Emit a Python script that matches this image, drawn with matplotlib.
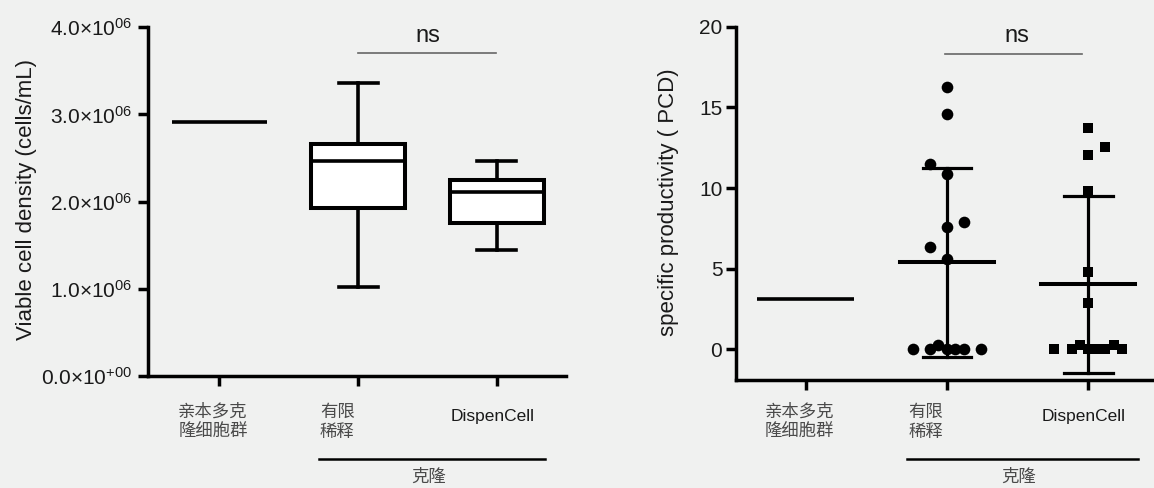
import numpy as np
import matplotlib
matplotlib.use("Agg")
import matplotlib.pyplot as plt
from matplotlib.transforms import blended_transform_factory

plt.rcParams['font.family'] = ['Liberation Sans', 'Noto Sans CJK SC', 'DejaVu Sans']
plt.rcParams['mathtext.fontset'] = 'custom'
plt.rcParams['mathtext.rm'] = 'Liberation Sans'
plt.rcParams['mathtext.it'] = 'Liberation Sans'
plt.rcParams['mathtext.default'] = 'regular'

# ---------------- data ----------------
categories = ['亲本多克\n隆细胞群', '有限\n稀释', 'DispenCell']
group_label = '克隆'

# Left panel: viable cell density (cells/mL)
vcd_parent = 2.91e6
vcd_whislo = [1.02e6, 1.44e6]
vcd_q1 = [1.92e6, 1.75e6]
vcd_med = [2.46e6, 2.105e6]
vcd_q3 = [2.665e6, 2.245e6]
vcd_whishi = [3.36e6, 2.465e6]
vcd_yticks = [0, 1e6, 2e6, 3e6, 4e6]
vcd_yticklabels = ['0.0×10$^{+00}$', '1.0×10$^{06}$', '2.0×10$^{06}$',
                   '3.0×10$^{06}$', '4.0×10$^{06}$']

# Right panel: specific productivity (PCD)
pcd_parent = 3.1
ld_values = [16.25, 14.6, 11.5, 10.85, 7.87, 7.6, 6.35, 5.6,
             0.0, 0.0, 0.27, 0.0, 0.0, 0.0, 0.0]
dc_values = [13.7, 12.57, 12.07, 9.82, 4.8, 2.9,
             0.0, 0.0, 0.3, 0.0, 0.0, 0.0, 0.3, 0.0]
pcd_yticks = [0, 5, 10, 15, 20]

# horizontal jitter of scatter points (style)
ld_jitter = [0, 0, -0.12, 0, 0.12, 0, -0.12, 0,
             -0.24, -0.12, -0.064, 0, 0.057, 0.12, 0.24]
dc_jitter = [0, 0.12, 0, 0, 0, 0,
             -0.24, -0.115, -0.06, 0, 0.06, 0.12, 0.18, 0.236]

# ---------------- figure ----------------
BG = '#f0f1f0'
W, H = 1154, 488
fig = plt.figure(figsize=(W / 100, H / 100), dpi=100, facecolor=BG)

def px_axes(l, r, t, b):
    return fig.add_axes([l / W, 1 - b / H, (r - l) / W, (b - t) / H])

ax1 = px_axes(148, 566, 27.3, 375.7)
ax2 = px_axes(735.5, 1154, 26.7, 380)

LW_SPINE = 2.5
TXT = '#1a1a1a'
CJK = '#4a4a4a'

for ax in (ax1, ax2):
    ax.set_facecolor(BG)
    for s in ('top', 'right'):
        ax.spines[s].set_visible(False)
    for s in ('left', 'bottom'):
        ax.spines[s].set_linewidth(LW_SPINE)
        ax.spines[s].set_color('black')
        ax.spines[s].set_capstyle('projecting')
    ax.tick_params(axis='both', direction='out', length=7.5, width=LW_SPINE,
                   colors='black', labelcolor=TXT)
    ax.set_xticks(range(len(categories)))
    ax.set_xticklabels([''] * len(categories))

# ----- left: box plot -----
ax1.set_xlim(-0.515, 2.498)
ax1.set_ylim(0, 4e6)
ax1.set_yticks(vcd_yticks)
ax1.set_yticklabels(vcd_yticklabels, fontsize=15)
ax1.tick_params(axis='y', pad=4)

LW_BOX = 2.9
LW = 2.6
ax1.plot([-0.34, 0.34], [vcd_parent, vcd_parent], color='black', lw=LW,
         solid_capstyle='butt')
stats = []
for i in range(2):
    stats.append(dict(med=vcd_med[i], q1=vcd_q1[i], q3=vcd_q3[i],
                      whislo=vcd_whislo[i], whishi=vcd_whishi[i], fliers=[]))
ax1.bxp(stats, positions=[1, 2], widths=0.68, capwidths=0.28,
        patch_artist=True, showfliers=False, manage_ticks=False,
        boxprops=dict(facecolor='white', edgecolor='black', linewidth=LW_BOX),
        medianprops=dict(color='black', linewidth=LW),
        whiskerprops=dict(color='black', linewidth=LW),
        capprops=dict(color='black', linewidth=LW))

# ns annotation
ax1.plot([1, 1.99], [3.705e6, 3.705e6], color='#666666', lw=1.2, clip_on=False)
ax1.text(1.5, 3.9e6, 'ns', ha='center', va='center', fontsize=17, color=TXT)

# ----- right: scatter with mean ± SD -----
ax2.set_xlim(-0.497, 2.465)
ax2.set_ylim(-1.9, 20)
ax2.set_yticks(pcd_yticks)
ax2.set_yticklabels([str(v) for v in pcd_yticks], fontsize=15)
ax2.tick_params(axis='y', pad=2)

ax2.plot([-0.344, 0.342], [pcd_parent, pcd_parent], color='black', lw=LW,
         solid_capstyle='butt')

groups = [(1, ld_values, ld_jitter, 'o', 8.4), (2, dc_values, dc_jitter, 's', 7.6)]
for pos, vals, jit, mk, ms in groups:
    vals = np.asarray(vals)
    mean = vals.mean()
    sd = vals.std(ddof=1)
    ax2.plot([pos, pos], [mean - sd, mean + sd], color='black', lw=2.3, zorder=2)
    ax2.plot([pos - 0.173, pos + 0.173], [mean + sd, mean + sd], color='black', lw=2.3, zorder=2)
    ax2.plot([pos - 0.173, pos + 0.173], [mean - sd, mean - sd], color='black', lw=2.3, zorder=2)
    ax2.plot([pos - 0.333, pos + 0.333], [mean, mean], color='black', lw=2.9, zorder=2)
    ax2.plot(pos + np.asarray(jit), vals, linestyle='none', marker=mk,
             markersize=ms, color='black', markeredgewidth=0, zorder=3)

ax2.plot([0.985, 1.955], [18.3, 18.3], color='#666666', lw=1.2, clip_on=False)
ax2.text(1.495, 19.4, 'ns', ha='center', va='center', fontsize=17, color=TXT)

# ----- category labels and group bracket -----
for ax in (ax1, ax2):
    tr = blended_transform_factory(ax.transData, fig.transFigure)
    ax.text(0 - 0.047, 1 - 422 / H, categories[0], transform=tr, ha='center',
            va='center', fontsize=12.5, color=CJK, family=['Noto Sans CJK SC'],
            linespacing=1.2)
    ax.text(1 - 0.15, 1 - 422 / H, categories[1], transform=tr, ha='center',
            va='center', fontsize=12.5, color=CJK, family=['Noto Sans CJK SC'],
            linespacing=1.2)
    ax.text(2 - 0.03, 1 - 416 / H, categories[2], transform=tr, ha='center',
            va='center', fontsize=12.5, color=TXT)
    ax.plot([0.72, 2.35], [1 - 458.5 / H] * 2, transform=tr, color='black',
            lw=1.8, clip_on=False)
    ax.text(1.505, 1 - 477 / H, group_label, transform=tr, ha='center',
            va='center', fontsize=12.5, color=CJK, family=['Noto Sans CJK SC'])

fig.text(27 / W, 1 - 200 / H, 'Viable cell density (cells/mL)', rotation=90,
         ha='center', va='center', fontsize=16, color=TXT)
fig.text(668.5 / W, 1 - 202.5 / H, 'specific productivity ( PCD)', rotation=90,
         ha='center', va='center', fontsize=16, color=TXT)

fig.savefig('out.png', dpi=100, facecolor=BG)
